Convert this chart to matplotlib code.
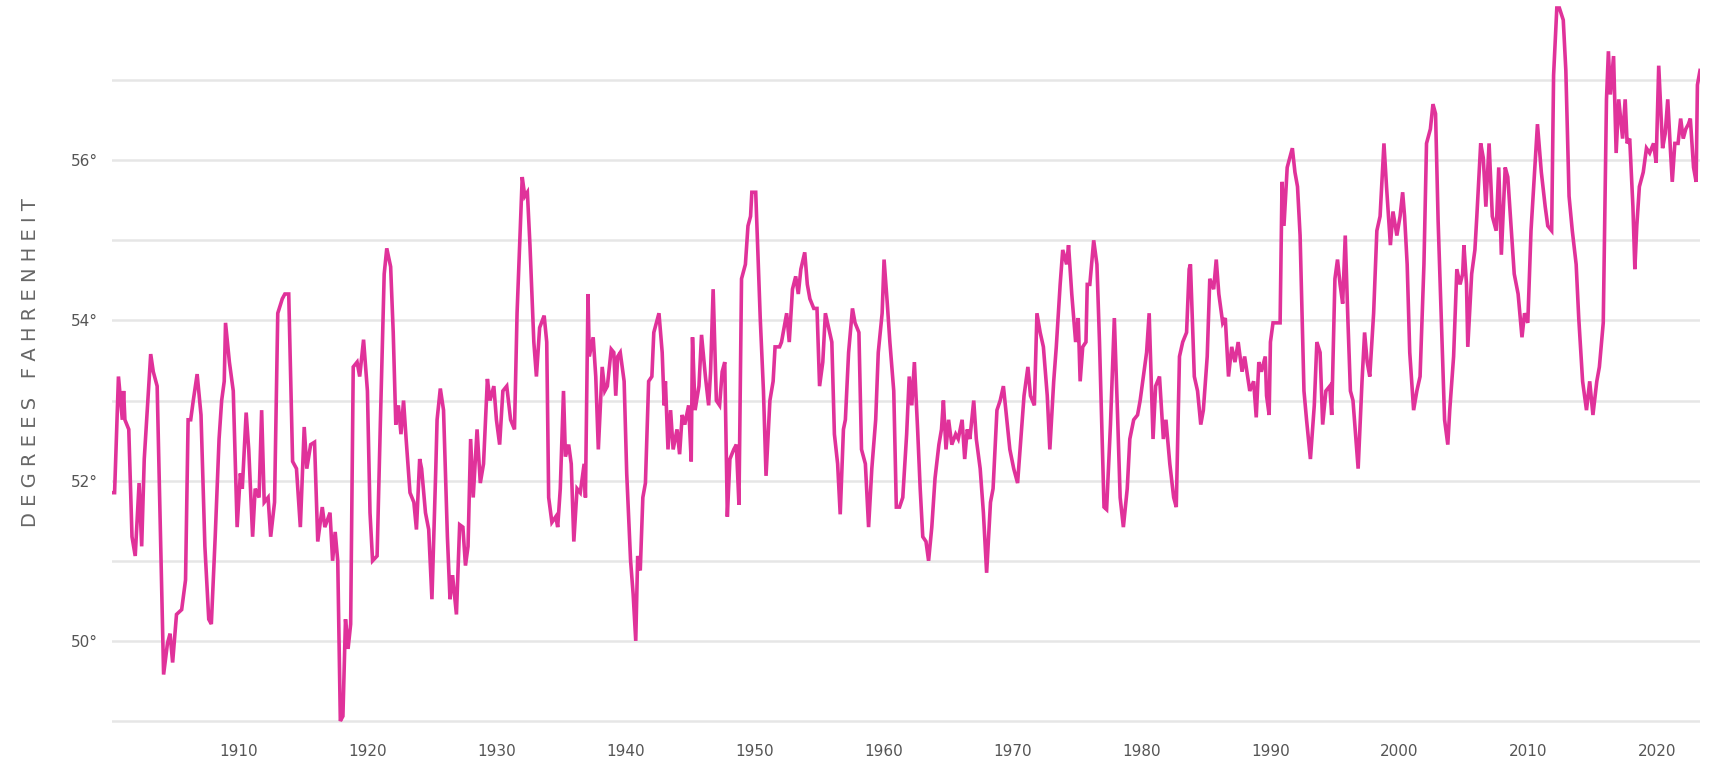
import numpy as np
import matplotlib
matplotlib.use("Agg")
import matplotlib.pyplot as plt

# 12-month average temperature (decimal year, deg F)
years = [
    1900.2, 1900.4, 1900.7, 1901.0, 1901.1, 1901.2, 1901.5, 1901.75, 1902.0, 1902.3,
    1902.5, 1902.7, 1903.2, 1903.4, 1903.7, 1904.2, 1904.5, 1904.7, 1904.9, 1905.2,
    1905.6, 1905.9, 1906.1, 1906.3, 1906.5, 1906.8, 1907.1, 1907.4, 1907.7, 1907.9,
    1908.2, 1908.5, 1908.7, 1908.9, 1909.0, 1909.3, 1909.6, 1909.9, 1910.15, 1910.3,
    1910.6, 1910.8, 1911.1, 1911.3, 1911.6, 1911.8, 1912.0, 1912.3, 1912.5, 1912.8,
    1913.05, 1913.4, 1913.6, 1913.9, 1914.2, 1914.5, 1914.8, 1915.1, 1915.3, 1915.6,
    1915.9, 1916.15, 1916.5, 1916.7, 1917.1, 1917.3, 1917.5, 1917.7, 1917.9, 1918.1,
    1918.3, 1918.5, 1918.7, 1918.9, 1919.2, 1919.4, 1919.7, 1920.0, 1920.2, 1920.4,
    1920.75, 1921.0, 1921.3, 1921.5, 1921.8, 1922.0, 1922.2, 1922.4,
    1922.6, 1922.8, 1923.0, 1923.3, 1923.6, 1923.8, 1924.05, 1924.2, 1924.5, 1924.75,
    1925.0, 1925.3, 1925.4, 1925.65, 1925.9, 1926.2, 1926.4, 1926.6, 1926.9, 1927.15,
    1927.4, 1927.6, 1927.8, 1928.0, 1928.2, 1928.5, 1928.75, 1929.0, 1929.3, 1929.5,
    1929.8, 1930.0, 1930.25, 1930.5, 1930.8, 1931.1, 1931.4, 1931.6, 1932.0, 1932.2,
    1932.4, 1932.6, 1932.9, 1933.1, 1933.35, 1933.7, 1933.9, 1934.05, 1934.3, 1934.6,
    1934.75, 1934.95, 1935.2, 1935.35, 1935.6, 1935.8, 1936.0, 1936.25, 1936.5, 1936.8,
    1936.9, 1937.1, 1937.2, 1937.5, 1937.7, 1937.9, 1938.2, 1938.4, 1938.6, 1938.9,
    1939.1, 1939.25, 1939.4, 1939.6, 1939.9, 1940.1, 1940.4, 1940.6, 1940.8, 1940.95,
    1941.15, 1941.35, 1941.55, 1941.8, 1942.05, 1942.2, 1942.6,
    1942.85, 1943.0, 1943.1, 1943.3, 1943.5, 1943.7, 1944.0, 1944.2, 1944.4, 1944.6,
    1944.9, 1945.1, 1945.2, 1945.4, 1945.7, 1945.9, 1946.2, 1946.45, 1946.6, 1946.8,
    1947.05, 1947.3, 1947.5, 1947.7, 1947.9, 1948.1, 1948.4, 1948.6, 1948.8, 1949.0,
    1949.3, 1949.5, 1949.7, 1949.8, 1950.1, 1950.25, 1950.45, 1950.7, 1950.9, 1951.2,
    1951.45, 1951.6, 1951.95, 1952.1, 1952.5, 1952.7, 1952.95, 1953.2, 1953.4, 1953.6,
    1953.9, 1954.1, 1954.3, 1954.6, 1954.85, 1955.05, 1955.3, 1955.5, 1955.75, 1956.0,
    1956.2, 1956.45, 1956.65, 1956.9, 1957.05, 1957.3, 1957.6, 1957.8, 1958.1, 1958.3,
    1958.6, 1958.85, 1959.1, 1959.4, 1959.6, 1959.9, 1960.05, 1960.3, 1960.5, 1960.8,
    1961.0, 1961.25, 1961.5, 1961.8, 1962.0, 1962.2, 1962.4, 1962.65, 1962.85, 1963.05,
    1963.3, 1963.5, 1963.75, 1964.0, 1964.3, 1964.5,
    1964.65, 1964.85, 1965.05, 1965.3, 1965.6, 1965.8, 1966.1, 1966.3, 1966.5, 1966.7,
    1967.0, 1967.2, 1967.5, 1967.75, 1968.0, 1968.3, 1968.5, 1968.8, 1969.05, 1969.3,
    1969.6, 1969.8, 1970.1, 1970.4, 1970.65, 1970.9, 1971.2, 1971.4, 1971.7, 1971.9,
    1972.15, 1972.4, 1972.7, 1972.9, 1973.2, 1973.4, 1973.7, 1973.9, 1974.2, 1974.35,
    1974.6, 1974.9, 1975.1, 1975.25, 1975.45, 1975.7, 1975.8, 1976.0, 1976.3, 1976.55,
    1976.75, 1977.1, 1977.3, 1977.6, 1977.9, 1978.15, 1978.35, 1978.6, 1978.9, 1979.1,
    1979.4, 1979.7, 1979.9, 1980.2, 1980.4, 1980.6, 1980.9, 1981.1, 1981.4, 1981.7,
    1981.9, 1982.2, 1982.5, 1982.7, 1982.95, 1983.2, 1983.5, 1983.7, 1983.8, 1984.1,
    1984.35, 1984.6, 1984.8, 1985.1, 1985.3, 1985.6, 1985.8, 1986.0,
    1986.3, 1986.5, 1986.75, 1987.0, 1987.25, 1987.5, 1987.8, 1988.0, 1988.4, 1988.7,
    1988.9, 1989.1, 1989.3, 1989.6, 1989.7, 1989.9, 1990.0, 1990.2, 1990.5, 1990.75,
    1990.9, 1991.05, 1991.3, 1991.5, 1991.7, 1991.9, 1992.1, 1992.3, 1992.6, 1992.8,
    1993.1, 1993.4, 1993.6, 1993.85, 1994.05, 1994.3, 1994.6, 1994.75, 1995.0, 1995.2,
    1995.4, 1995.6, 1995.8, 1996.0, 1996.2, 1996.4, 1996.6, 1996.8, 1997.1, 1997.3,
    1997.5, 1997.7, 1998.0, 1998.25, 1998.5, 1998.8, 1999.0, 1999.3, 1999.5, 1999.8,
    2000.05, 2000.25, 2000.4, 2000.6, 2000.8, 2001.1, 2001.35, 2001.6, 2001.9, 2002.1,
    2002.4, 2002.6, 2002.8, 2003.0, 2003.3, 2003.5, 2003.75, 2003.9,
    2004.2, 2004.45, 2004.7, 2004.9, 2005.0, 2005.2, 2005.3, 2005.6, 2005.85, 2006.0,
    2006.3, 2006.5, 2006.7, 2006.95, 2007.2, 2007.5, 2007.7, 2007.9, 2008.2, 2008.4,
    2008.7, 2008.9, 2009.2, 2009.5, 2009.7, 2009.95, 2010.2, 2010.5, 2010.7, 2011.0,
    2011.3, 2011.5, 2011.8, 2011.95, 2012.2, 2012.4, 2012.7, 2012.9, 2013.15, 2013.4,
    2013.7, 2013.9, 2014.2, 2014.5, 2014.75, 2015.0, 2015.3, 2015.5, 2015.8, 2016.05,
    2016.2, 2016.35, 2016.6, 2016.8, 2017.0, 2017.3, 2017.5, 2017.65, 2017.85, 2018.1,
    2018.25, 2018.4, 2018.6, 2018.9, 2019.15, 2019.4, 2019.7, 2019.9, 2020.1, 2020.4,
    2020.6, 2020.8, 2021.0, 2021.15, 2021.35, 2021.6, 2021.8, 2022.0, 2022.2, 2022.4,
    2022.55, 2022.8, 2023.0, 2023.1, 2023.3,
]

temps = [
    51.85, 51.85, 53.3, 52.76, 53.12, 52.76, 52.64, 51.3, 51.06, 51.97,
    51.18, 52.27, 53.58, 53.36, 53.18, 49.58, 49.97, 50.09, 49.73, 50.33,
    50.39, 50.76, 52.76, 52.76, 53.0, 53.33, 52.82, 51.18, 50.27, 50.21,
    51.3, 52.52, 53.0, 53.24, 53.97, 53.48, 53.12, 51.42, 52.09, 51.9,
    52.85, 52.39, 51.3, 51.9, 51.79, 52.88, 51.73, 51.79, 51.3, 51.73,
    54.09, 54.27, 54.33, 54.33, 52.24, 52.15, 51.42, 52.67, 52.15, 52.45,
    52.48, 51.24, 51.67, 51.42, 51.6, 51.0, 51.36, 51.0, 49.0, 49.06,
    50.27, 49.9, 50.21, 53.42, 53.48, 53.3, 53.76, 53.12, 51.6, 51.0,
    51.06, 52.7, 54.58, 54.9, 54.67, 53.85, 52.7, 52.94,
    52.58, 53.0, 52.52, 51.85, 51.73, 51.39, 52.27, 52.15, 51.6, 51.39,
    50.52, 52.15, 52.76, 53.15, 52.88, 51.3, 50.52, 50.82, 50.33, 51.45,
    51.42, 50.94, 51.18, 52.52, 51.79, 52.64, 51.97, 52.21, 53.27, 53.0,
    53.18, 52.76, 52.45, 53.12, 53.18, 52.76, 52.64, 54.09, 55.79, 55.55,
    55.6, 54.94, 53.73, 53.3, 53.91, 54.06, 53.73, 51.79, 51.48, 51.55,
    51.42, 51.9, 53.12, 52.3, 52.45, 52.21, 51.24, 51.9, 51.85, 52.21,
    51.79, 54.33, 53.55, 53.79, 53.3, 52.39, 53.42, 53.12, 53.18, 53.64,
    53.6, 53.06, 53.55, 53.6, 53.24, 52.09, 51.0, 50.58, 50.0, 51.06,
    50.88, 51.79, 51.97, 53.24, 53.3, 53.85, 54.09,
    53.6, 52.94, 53.24, 52.39, 52.88, 52.39, 52.64, 52.33, 52.82, 52.7,
    52.94, 52.24, 53.79, 52.88, 53.18, 53.82, 53.3, 52.94, 53.36, 54.39,
    53.0, 52.94, 53.36, 53.48, 51.55, 52.27, 52.39, 52.45, 51.7, 54.52,
    54.7, 55.18, 55.3, 55.6, 55.6, 54.94, 54.03, 53.12, 52.06, 53.0,
    53.24, 53.67, 53.67, 53.73, 54.09, 53.73, 54.39, 54.55, 54.33, 54.64,
    54.85, 54.45, 54.27, 54.15, 54.15, 53.18, 53.48, 54.09, 53.91, 53.73,
    52.58, 52.21, 51.58, 52.64, 52.76, 53.6, 54.15, 53.97, 53.85, 52.39,
    52.21, 51.42, 52.15, 52.76, 53.6, 54.09, 54.76, 54.21, 53.73, 53.12,
    51.67, 51.67, 51.79, 52.58, 53.3, 52.94, 53.48, 52.64, 51.9, 51.3,
    51.24, 51.0, 51.42, 52.03, 52.45, 52.64,
    53.0, 52.39, 52.76, 52.45, 52.58, 52.52, 52.76, 52.27, 52.64, 52.52,
    53.0, 52.52, 52.15, 51.6, 50.85, 51.73, 51.9, 52.88, 53.0, 53.18,
    52.7, 52.39, 52.15, 51.97, 52.52, 53.06, 53.42, 53.06, 52.94, 54.09,
    53.85, 53.67, 53.06, 52.39, 53.24, 53.67, 54.45, 54.88, 54.7, 54.94,
    54.33, 53.73, 54.03, 53.24, 53.67, 53.73, 54.45, 54.45, 55.0, 54.7,
    53.73, 51.67, 51.64, 52.7, 54.03, 52.82, 51.79, 51.42, 51.9, 52.52,
    52.76, 52.82, 53.0, 53.36, 53.6, 54.09, 52.52, 53.18, 53.3, 52.52,
    52.76, 52.21, 51.79, 51.67, 53.55, 53.73, 53.85, 54.64, 54.7, 53.3,
    53.12, 52.7, 52.88, 53.55, 54.52, 54.39, 54.76, 54.33,
    53.97, 54.03, 53.3, 53.67, 53.48, 53.73, 53.36, 53.55, 53.12, 53.24,
    52.79, 53.48, 53.36, 53.55, 53.06, 52.82, 53.73, 53.97, 53.97, 53.97,
    55.73, 55.18, 55.91, 56.03, 56.15, 55.85, 55.67, 55.06, 53.12, 52.76,
    52.27, 52.94, 53.73, 53.6, 52.7, 53.12, 53.18, 52.82, 54.52, 54.76,
    54.45, 54.21, 55.06, 54.03, 53.12, 53.0, 52.58, 52.15, 53.24, 53.85,
    53.48, 53.3, 54.09, 55.12, 55.3, 56.21, 55.67, 54.94, 55.36, 55.06,
    55.3, 55.6, 55.3, 54.7, 53.6, 52.88, 53.12, 53.3, 54.7, 56.21,
    56.39, 56.7, 56.58, 55.24, 53.73, 52.76, 52.45, 52.88,
    53.55, 54.64, 54.45, 54.58, 54.94, 54.45, 53.67, 54.58, 54.88, 55.3,
    56.21, 56.03, 55.42, 56.21, 55.3, 55.12, 55.91, 54.82, 55.91, 55.79,
    55.06, 54.58, 54.33, 53.79, 54.09, 53.97, 55.12, 55.91, 56.45, 55.85,
    55.42, 55.18, 55.12, 57.06, 57.9, 57.9, 57.75, 57.12, 55.55, 55.12,
    54.7, 54.03, 53.24, 52.88, 53.24, 52.82, 53.24, 53.42, 53.97, 56.76,
    57.36, 56.82, 57.3, 56.09, 56.76, 56.27, 56.76, 56.21, 56.27, 55.42,
    54.64, 55.18, 55.67, 55.85, 56.15, 56.09, 56.21, 55.97, 57.18, 56.15,
    56.33, 56.76, 56.15, 55.73, 56.21, 56.21, 56.52, 56.27, 56.39, 56.45,
    56.52, 55.91, 55.73, 56.94, 57.12,
]

x_ticks = [1910, 1920, 1930, 1940, 1950, 1960, 1970, 1980, 1990, 2000, 2010, 2020]
y_grid = [49, 50, 51, 52, 53, 54, 55, 56, 57]
y_labeled = [50, 52, 54, 56]

line_color = "#e0329a"
text_color = "#555555"

W, H = 1714, 765
fig = plt.figure(figsize=(W / 100, H / 100), dpi=100)
fig.patch.set_facecolor("white")
ax = fig.add_axes([112 / W, 1 - 729 / H, (1700 - 112) / W, 729 / H])

ax.plot(years, temps, color=line_color, lw=2.6, solid_joinstyle="miter", zorder=3)

ax.set_xlim(years[0], years[-1])
ax.set_ylim(48.9, 58.0)

ax.set_yticks(y_grid)
ax.set_yticklabels([f"{v}°" if v in y_labeled else "" for v in y_grid])
ax.set_xticks(x_ticks)
ax.set_xticklabels([str(t) for t in x_ticks])
ax.grid(axis="y", color="#e6e6e6", lw=1.8, zorder=0)
ax.tick_params(axis="both", length=0, labelsize=11, labelcolor=text_color)
ax.tick_params(axis="y", pad=10)
ax.tick_params(axis="x", pad=11)
for s in ax.spines.values():
    s.set_visible(False)

fig.text(31 / W, 1 - 363 / H, "D E G R E E S   F A H R E N H E I T",
         rotation=90, ha="center", va="center", fontsize=14, color="#666666")

fig.savefig("out.png", dpi=100, facecolor="white")
